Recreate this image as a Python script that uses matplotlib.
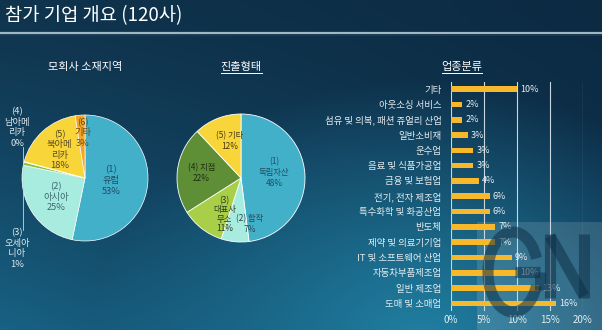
import numpy as np
import matplotlib
matplotlib.use("Agg")
import matplotlib.pyplot as plt
from matplotlib.patches import Rectangle, Arc

plt.rcParams['font.family'] = ['Noto Sans CJK KR', 'DejaVu Sans']

# ---------------- data ----------------
title = "참가 기업 개요 (120사)"

pie1_title = "모회사 소재지역"
pie1_labels = ["(1)\n유럽\n53%", "(2)\n아시아\n25%", "(3)\n오세아\n니아\n1%",
               "(4)\n남아메\n리카\n0%", "(5)\n북아메\n리카\n18%", "(6)\n기타\n3%"]
pie1_values = [64, 30, 1, 0.15, 22, 3]
pie1_colors = ["#41b0c8", "#a8ece0", "#8cc43c", "#5d9a3a", "#f8d63a", "#f5a524"]

pie2_title = "진출형태"
pie2_labels = ["(1)\n독립자산\n48%", "(2) 합작\n7%", "(3)\n대표사\n무소\n11%",
               "(4) 지점\n22%", "(5) 기타\n12%"]
pie2_values = [48, 7, 11, 22, 12]
pie2_colors = ["#41b0c8", "#a8ece0", "#a9cf48", "#5e8f36", "#f8d63a"]

bar_title = "업종분류"
bar_categories = ["기타", "아웃소싱 서비스", "섬유 및 의복, 패션 쥬얼리 산업", "일반소비재",
                  "운수업", "음료 및 식품가공업", "금융 및 보험업", "전기, 전자 제조업",
                  "특수화학 및 화공산업", "반도체", "제약 및 의료기기업",
                  "IT 및 소프트웨어 산업", "자동차부품제조업", "일반 제조업", "도매 및 소매업"]
bar_counts = [12, 2, 2, 3, 4, 4, 5, 7, 7, 8, 8, 11, 12, 16, 19]
bar_labels = ["10%", "2%", "2%", "3%", "3%", "3%", "4%", "6%", "6%", "7%", "7%",
              "9%", "10%", "13%", "16%"]
bar_total = 120
x_ticks = [0, 5, 10, 15, 20]
x_ticklabels = ["0%", "5%", "10%", "15%", "20%"]

W, H = 602, 330
fig = plt.figure(figsize=(W / 100, H / 100), dpi=100)

# ---------------- background ----------------
bg = fig.add_axes([0, 0, 1, 1])
bg.set_axis_off()
yy, xx = np.mgrid[0:H, 0:W]
top = np.array([16, 52, 78]) / 255
topr = np.array([12, 42, 66]) / 255
bot = np.array([32, 128, 162]) / 255
botl = np.array([24, 98, 132]) / 255
fy = (yy / H) ** 1.3
fx = xx / W
d = np.sqrt(((xx - 420) / 330.0) ** 2 + ((yy - 340) / 260.0) ** 2)
g = np.clip(1 - d, 0, 1)[..., None]
base = (top * (1 - fx[..., None]) + topr * fx[..., None]) * (1 - fy[..., None]) + \
       (botl * (1 - fx[..., None]) + topr * 1.3 * fx[..., None]) * fy[..., None]
img = base * (1 - g) + bot * g
img = np.clip(img, 0, 1)
bg.imshow(img, extent=[0, W, H, 0], aspect='auto', zorder=0)
bg.set_xlim(0, W)
bg.set_ylim(H, 0)
# header line
bg.plot([0, W], [33, 33], color="#9fb8c4", lw=1.6, zorder=1)
bg.plot([0, W], [34.5, 34.5], color="#1c3f55", lw=0.6, zorder=1)
bg.text(5, 16, title, color="white", fontsize=13.5, va="center", ha="left", zorder=2)

# watermark panel
bg.add_patch(Rectangle((477, 222), 125, 108, facecolor="white", alpha=0.13,
                       edgecolor="none", zorder=1))


def pie_axes(left, top_, right, bottom):
    ax = fig.add_axes([left / W, (H - bottom) / H, (right - left) / W, (bottom - top_) / H])
    ax.set_axis_off()
    return ax


def label_pos(values, idx, dist):
    tot = sum(values)
    start = 90.0
    cum = sum(values[:idx])
    ang = start - 360.0 * (cum + values[idx] / 2) / tot
    a = np.deg2rad(ang)
    return dist * np.cos(a), dist * np.sin(a)


# ---------------- pie 1 ----------------
ax1 = pie_axes(0, 90, 170, 290)
ax1.pie(pie1_values, colors=pie1_colors, startangle=90, counterclock=False,
        wedgeprops=dict(edgecolor="white", linewidth=0.5), radius=1,
        normalize=True)
ax1.set_xlim(-85 / 63, 85 / 63)
ax1.set_ylim(-112 / 63, 88 / 63)
ax1.set_aspect('auto')
fs = 6.7
x, y = label_pos(pie1_values, 0, 0.42)
ax1.text(x, y, pie1_labels[0], ha="center", va="center", fontsize=fs,
         color="#1f4d66", linespacing=1.25)
x, y = label_pos(pie1_values, 1, 0.55)
ax1.text(x, y, pie1_labels[1], ha="center", va="center", fontsize=fs,
         color="#3d6a70", linespacing=1.25)
x, y = label_pos(pie1_values, 4, 0.60)
ax1.text(x, y, pie1_labels[4], ha="center", va="center", fontsize=fs,
         color="#5a4a20", linespacing=1.2)
x, y = label_pos(pie1_values, 5, 0.72)
ax1.text(x + 0.02, y, pie1_labels[5], ha="center", va="center", fontsize=fs,
         color="#6a4a10", linespacing=1.2)
# outside labels with leader line
ax1.text(-1.08, 0.80, pie1_labels[3], ha="center", va="center", fontsize=fs,
         color="#dfe9ee", linespacing=1.2)
ax1.text(-1.08, -1.12, pie1_labels[2], ha="center", va="center", fontsize=fs,
         color="#dfe9ee", linespacing=1.2)
ax1.plot([-0.98, -0.98], [0.50, -0.82], color="#c8d6dc", lw=0.6)
fig.text(85 / W, 1 - 67 / H, pie1_title, color="white", fontsize=8,
         ha="center", va="center")

# ---------------- pie 2 ----------------
ax2 = pie_axes(170, 90, 310, 290)
ax2.pie(pie2_values, colors=pie2_colors, startangle=90, counterclock=False,
        wedgeprops=dict(edgecolor="white", linewidth=0.6), radius=1)
ax2.set_xlim(-71 / 64, 69 / 64)
ax2.set_ylim(-112 / 64, 88 / 64)
ax2.set_aspect('auto')
fs2 = 6.0
x, y = label_pos(pie2_values, 0, 0.52)
ax2.text(x, y + 0.05, pie2_labels[0], ha="center", va="center", fontsize=fs2,
         color="#1f4d66", linespacing=1.3)
x, y = label_pos(pie2_values, 1, 0.74)
ax2.text(x + 0.2, y + 0.02, pie2_labels[1], ha="center", va="center", fontsize=fs2,
         color="#2a4656", linespacing=1.2)
x, y = label_pos(pie2_values, 2, 0.62)
ax2.text(x + 0.12, y - 0.08, pie2_labels[2], ha="center", va="center", fontsize=fs2,
         color="#2a3a20", linespacing=1.05)
x, y = label_pos(pie2_values, 3, 0.62)
ax2.text(x, y, pie2_labels[3], ha="center", va="center", fontsize=fs2,
         color="#1e2e14", linespacing=1.3)
x, y = label_pos(pie2_values, 4, 0.62)
ax2.text(x + 0.05, y, pie2_labels[4], ha="center", va="center", fontsize=fs2,
         color="#4a3a10", linespacing=1.3)
t2 = fig.text(241 / W, 1 - 67 / H, pie2_title, color="white", fontsize=8,
              ha="center", va="center")

# ---------------- bars ----------------
axb = fig.add_axes([451 / W, (H - 311) / H, (583 - 451) / W, (311 - 81.5) / H])
axb.set_facecolor("none")
pct = [c / bar_total * 100 for c in bar_counts]
ypos = np.arange(len(bar_categories))
axb.barh(ypos, pct, height=0.36, color="#f7b82c", zorder=3)
for xv in x_ticks:
    axb.axvline(xv, color="#c9d8e0", lw=0.8, zorder=1)
for yv, p, lab in zip(ypos, pct, bar_labels):
    axb.text(p + 0.5, yv, lab, va="center", ha="left", fontsize=6.5,
             color="#e8eff3", zorder=4)
axb.set_xlim(0, 20)
axb.set_ylim(len(bar_categories) - 0.5, -0.5)
axb.set_yticks(ypos)
axb.set_yticklabels(bar_categories, fontsize=6.8, color="#e3ecf0")
axb.set_xticks(x_ticks)
axb.set_xticklabels(x_ticklabels, fontsize=7, color="#e3ecf0")
axb.tick_params(length=0, pad=3)
axb.tick_params(axis='y', pad=7)
for s in axb.spines.values():
    s.set_visible(False)
t3 = fig.text(462 / W, 1 - 67 / H, bar_title, color="white", fontsize=8,
              ha="center", va="center")

# watermark logo drawn as strokes on an overlay
ov = fig.add_axes([0, 0, 1, 1], zorder=10)
ov.set_axis_off()
ov.set_xlim(0, W)
ov.set_ylim(H, 0)
ov.patch.set_alpha(0)
wm = dict(color="#0e3048", alpha=0.55, lw=8, solid_capstyle="butt")
ov.add_patch(Arc((513, 272), 50, 80, theta1=30, theta2=330, edgecolor="#0e3048",
                 alpha=0.55, lw=8))
ov.plot([515, 540], [272, 272], **wm)
ov.plot([540, 540], [272, 290], **wm)
ov.plot([550, 550], [234, 298], **wm)
ov.plot([550, 584], [236, 296], **wm)
ov.plot([584, 584], [234, 298], **wm)

# underlines
fig.canvas.draw()
r = fig.canvas.get_renderer()
for t in (t2, t3):
    bb = t.get_window_extent(renderer=r)
    yline = bb.y0 - 1
    fig.add_artist(plt.Line2D([bb.x0 / W, bb.x1 / W], [yline / H, yline / H],
                              color="white", lw=0.7))

fig.savefig("out.png", dpi=100)
